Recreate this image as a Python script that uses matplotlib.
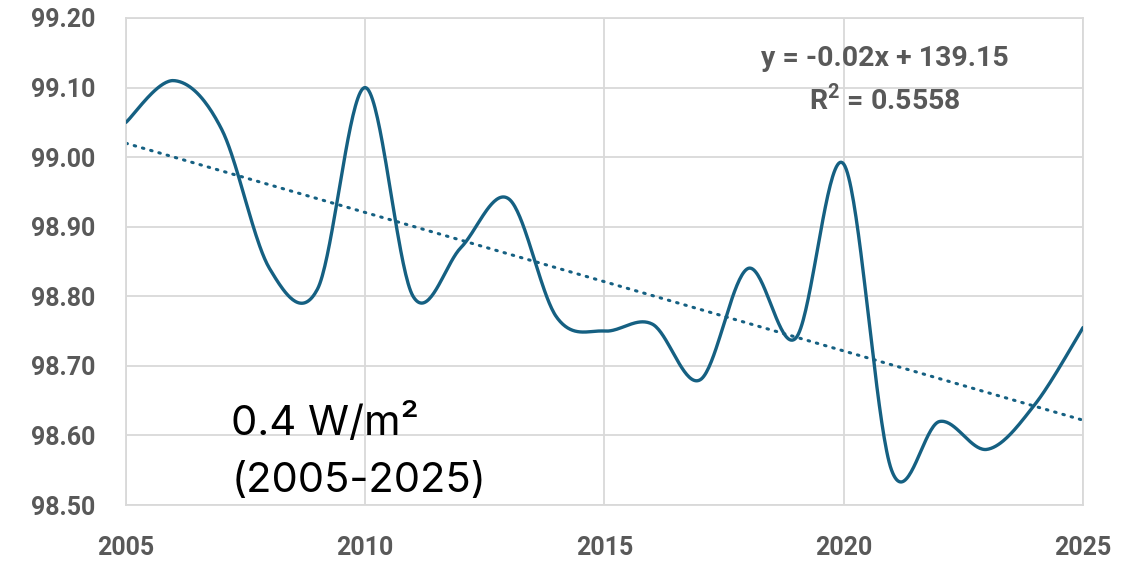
import numpy as np
import matplotlib.pyplot as plt

years = list(range(2005, 2026))
values = [99.05, 99.11, 99.04, 98.84, 98.81, 99.10, 98.80, 98.87, 98.94, 98.77,
          98.75, 98.76, 98.68, 98.84, 98.74, 98.99, 98.55, 98.62, 98.58, 98.645,
          98.755]
eq_label = "y = -0.02x + 139.15"
r2_label = r"R$^{\mathbf{2}}$ = 0.5558"
note_lines = ["0.4 W/m\u00b2", "(2005-2025)"]

line_color = "#156082"
text_gray = "#595959"
grid_gray = "#D9D9D9"
label_font = "Roboto"
note_font = "Inter"


def smooth(xs, ys, n=40):
    # cubic bezier through each pair of points, catmull-rom style tangents
    x = np.asarray(xs, float)
    y = np.asarray(ys, float)
    xp = np.concatenate([[x[0]], x, [x[-1]]])
    yp = np.concatenate([[y[0]], y, [y[-1]]])
    t = np.linspace(0, 1, n)[:, None]
    out_x, out_y = [], []
    for i in range(len(x) - 1):
        p0 = np.array([xp[i + 1], yp[i + 1]])
        p3 = np.array([xp[i + 2], yp[i + 2]])
        c1 = p0 + (p3 - np.array([xp[i], yp[i]])) / 6
        c2 = p3 - (np.array([xp[i + 3], yp[i + 3]]) - p0) / 6
        pts = ((1 - t) ** 3) * p0 + 3 * ((1 - t) ** 2) * t * c1 \
            + 3 * (1 - t) * t ** 2 * c2 + t ** 3 * p3
        out_x.extend(pts[:, 0])
        out_y.extend(pts[:, 1])
    return np.array(out_x), np.array(out_y)


plt.rcParams["mathtext.fontset"] = "custom"
plt.rcParams["mathtext.rm"] = label_font
plt.rcParams["mathtext.bf"] = label_font + ":bold"

fig = plt.figure(figsize=(11.43, 5.62), dpi=100)
ax = fig.add_axes([0.1102, 0.1014, 0.8373, 0.8666])

sx, sy = smooth(years, values)
ax.plot(sx, sy, color=line_color, lw=2.4, solid_capstyle="round", zorder=3)

coef = np.polyfit(years, values, 1)
tx = np.array([years[0], years[-1]])
ax.plot(tx, np.polyval(coef, tx), color=line_color, lw=2.2,
        linestyle=(0, (0.5, 2.3)), dash_capstyle="round", zorder=2)

ax.set_xlim(2005, 2025)
ax.set_ylim(98.5, 99.2)
ax.set_xticks(range(2005, 2026, 5))
ax.set_yticks(np.arange(98.5, 99.21, 0.1))
ax.set_yticklabels([f"{v:.2f}" for v in np.arange(98.5, 99.21, 0.1)])
ax.grid(True, color=grid_gray, lw=1.3)
ax.set_axisbelow(True)
for s in ax.spines.values():
    s.set_color(grid_gray)
    s.set_linewidth(1.3)
ax.tick_params(length=0, labelsize=18, labelcolor=text_gray)
ax.tick_params(axis="y", pad=22)
ax.tick_params(axis="x", pad=22)
for lab in ax.get_xticklabels() + ax.get_yticklabels():
    lab.set_fontweight("bold")
    lab.set_family(label_font)

ax.text(2020.85, 99.142, eq_label, ha="center", va="center", fontsize=20.5,
        fontweight="bold", color=text_gray, family=label_font)
ax.text(2020.85, 99.082, r2_label, ha="center", va="center",
        fontsize=20.5, fontweight="bold", color=text_gray, family=label_font)

ax.text(2007.2, 98.600, note_lines[0], ha="left", va="baseline", fontsize=30,
        color="black", family=note_font)
ax.text(2007.2, 98.518, note_lines[1], ha="left", va="baseline", fontsize=30,
        color="black", family=note_font)

fig.savefig("out.png", dpi=100)
